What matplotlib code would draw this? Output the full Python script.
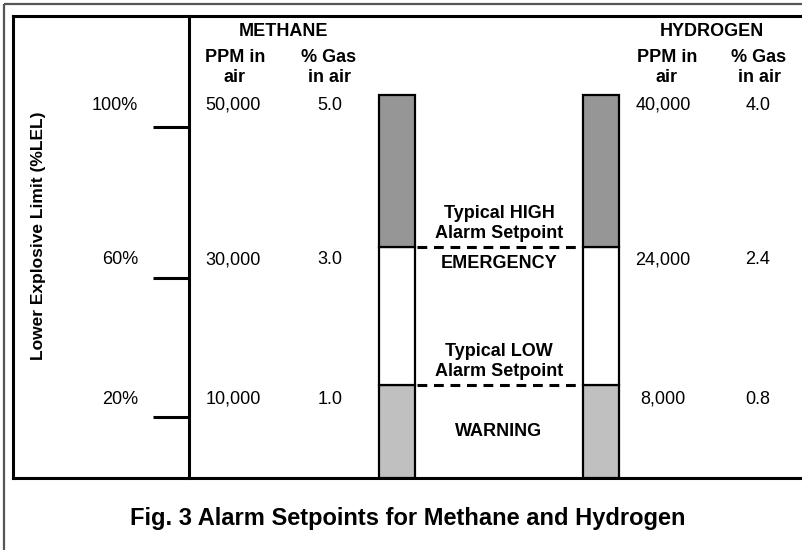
import numpy as np
import matplotlib
matplotlib.use('Agg')
import matplotlib.pyplot as plt

plt.rcParams['font.family'] = ['Liberation Sans', 'DejaVu Sans']

# table values
lel_labels = ['100%', '60%', '20%']
methane_ppm = ['50,000', '30,000', '10,000']
methane_pct = ['5.0', '3.0', '1.0']
hydrogen_ppm = ['40,000', '24,000', '8,000']
hydrogen_pct = ['4.0', '2.4', '0.8']

# alarm zones in %LEL
zone_bounds = [0, 20, 60, 100]
zone_colors = ['#c0c0c0', 'white', '#969696']
zone_names = ['WARNING', 'EMERGENCY', '']
setpoints = [20, 60]
setpoint_labels = [('Typical LOW', 'Alarm Setpoint'),
                   ('Typical HIGH', 'Alarm Setpoint')]

# layout (pixels, y downwards)
W, H = 802, 550
row_y = [105, 260, 399]
tick_y = [127, 278, 417]
bar_px = [478, 385, 247, 95]      # pixel level for each zone bound
bar_x = [397, 601]
bar_w = 36
box_left, box_top, box_bottom = 13, 16, 478
axis_x = 189


def lel_to_px(v):
    return np.interp(v, zone_bounds, bar_px)


fig = plt.figure(figsize=(W / 100.0, H / 100.0), dpi=100)
ax = fig.add_axes([0, 0, 1, 1])
ax.set_xlim(0, W)
ax.set_ylim(H, 0)
ax.axis('off')

lw_thick = 2.2
# outer frame
ax.plot([4, 4], [4, H], color='#555555', lw=1.6, solid_capstyle='butt')
ax.plot([4, W], [4, 4], color='#555555', lw=1.6, solid_capstyle='butt')
# inner box
ax.plot([box_left, box_left], [box_top, box_bottom], color='black', lw=lw_thick)
ax.plot([box_left, W], [box_top, box_top], color='black', lw=lw_thick)
ax.plot([box_left, W], [box_bottom, box_bottom], color='black', lw=lw_thick)

# LEL axis
ax.plot([axis_x, axis_x], [box_top, box_bottom], color='black', lw=lw_thick)
for ty in tick_y:
    ax.plot([153, axis_x], [ty, ty], color='black', lw=lw_thick,
            solid_capstyle='butt')

ax.text(39, 236, 'Lower Explosive Limit (%LEL)', rotation=90,
        ha='center', va='center', fontsize=12.5, fontweight='bold')

# bars
for bx in bar_x:
    for i in range(len(zone_colors)):
        lo = lel_to_px(zone_bounds[i])
        hi = lel_to_px(zone_bounds[i + 1])
        ax.bar(bx, hi - lo, bottom=lo, width=bar_w, color=zone_colors[i],
               edgecolor='black', linewidth=1.6, zorder=2)

# setpoint dashed lines and labels
mid_x = (bar_x[0] + bar_x[1]) / 2.0
for sp, lab in zip(setpoints, setpoint_labels):
    y = lel_to_px(sp)
    ax.plot([bar_x[0] + bar_w / 2.0 + 2, bar_x[1] - bar_w / 2.0 - 2], [y, y],
            color='black', lw=2.2, linestyle=(0, (3.2, 2.2)))
    ax.text(mid_x, y - 34, lab[0], ha='center', va='center',
            fontsize=13, fontweight='bold')
    ax.text(mid_x, y - 13, lab[1], ha='center', va='center',
            fontsize=13, fontweight='bold')

ax.text(mid_x, 264, zone_names[1], ha='center', va='center',
        fontsize=13, fontweight='bold')
ax.text(mid_x, 431, zone_names[0], ha='center', va='center',
        fontsize=13, fontweight='bold')

# headers
hdr = dict(ha='center', va='center', fontsize=13, fontweight='bold')
ax.text(284, 31, 'METHANE', **hdr)
ax.text(712, 31, 'HYDROGEN', **hdr)
for cx, l1, l2 in [(235, 'PPM in', 'air'), (329, '% Gas', 'in air'),
                   (667, 'PPM in', 'air'), (759, '% Gas', 'in air')]:
    ax.text(cx, 57, l1, **hdr)
    ax.text(cx, 77, l2, **hdr)

# table rows
for i, y in enumerate(row_y):
    ax.text(138, y, lel_labels[i], ha='right', va='center', fontsize=13)
    ax.text(233, y, methane_ppm[i], ha='center', va='center', fontsize=13)
    ax.text(330, y, methane_pct[i], ha='center', va='center', fontsize=13)
    ax.text(663, y, hydrogen_ppm[i], ha='center', va='center', fontsize=13)
    ax.text(758, y, hydrogen_pct[i], ha='center', va='center', fontsize=13)

ax.text(408, 518, 'Fig. 3 Alarm Setpoints for Methane and Hydrogen',
        ha='center', va='center', fontsize=17, fontweight='bold')

fig.savefig('out.png', dpi=100)
